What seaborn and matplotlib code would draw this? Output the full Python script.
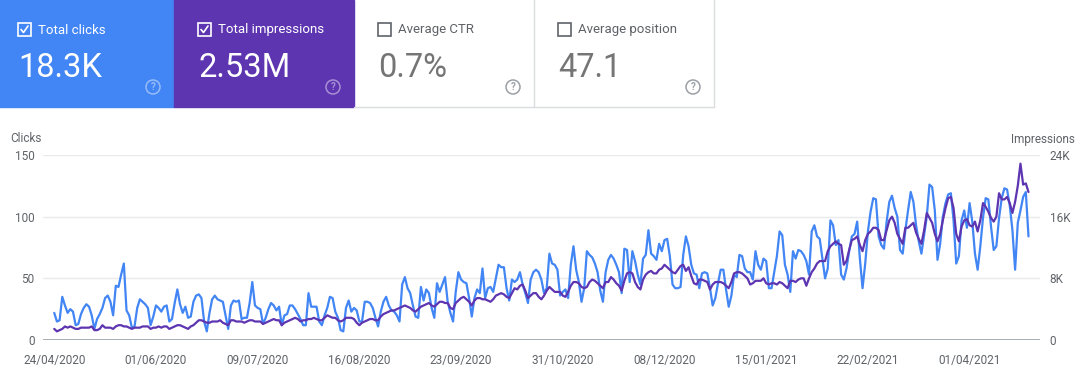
import pandas as pd
import seaborn as sns
import matplotlib
matplotlib.use("Agg")
from matplotlib import pyplot as plt
from matplotlib.patches import Rectangle, Ellipse
from matplotlib.lines import Line2D

# Daily values (24/04/2020 .. 23/04/2021)
start_date = "2020-04-24"

clicks = [
    22, 15, 16, 35, 28, 22, 25, 23, 12, 13, 21, 26, 29, 27,
    20, 9, 17, 21, 26, 34, 36, 31, 20, 44, 43, 53, 62, 24,
    20, 10, 11, 26, 33, 31, 29, 26, 12, 19, 28, 26, 23, 27,
    28, 15, 17, 30, 41, 29, 22, 27, 18, 19, 31, 36, 37, 34,
    15, 7, 22, 33, 36, 33, 32, 31, 20, 9, 28, 32, 31, 32,
    17, 18, 18, 30, 47, 28, 26, 25, 13, 18, 25, 30, 28, 24,
    27, 12, 20, 21, 28, 28, 25, 21, 17,
    12, 12, 38, 27, 27, 27, 15, 12, 20, 26, 35, 34, 23, 18,
    8, 7, 26, 32, 23, 26, 24, 15, 15, 31, 31, 30, 26, 18,
    11, 23, 31, 35, 28, 24, 23, 20, 15, 45, 51, 42, 38, 28,
    19, 18, 43, 32, 41, 38, 26, 18, 46, 39, 45, 51, 31, 22,
    15, 39, 55, 49, 47, 46, 34, 19, 34, 41, 38, 58, 34, 42,
    43, 39, 50, 61, 59, 59, 42, 32, 49, 47, 49, 55, 45, 38,
    30, 49, 55, 57, 55, 49, 38, 42, 70, 62, 61, 57, 36, 39,
    41, 34, 61, 76, 57, 47,
    31, 42, 72, 69, 67, 62, 55, 40, 31, 55, 65, 69, 66, 61,
    55, 38, 74, 73, 47, 72, 64, 53, 45, 66, 69, 89, 70, 68,
    65, 78, 72, 81, 82, 68, 45, 42, 42, 43, 69, 84, 76, 61,
    54, 53, 42, 54, 55, 54, 42, 28, 34, 46, 57, 57, 41, 27,
    36, 53, 51, 69, 68, 58, 55, 55, 49, 72, 61, 57, 66, 64,
    42, 42, 55, 68, 88, 85, 61, 53, 39, 72, 66, 73, 72, 69,
    64, 53, 88, 93, 84,
    82, 66, 50, 58, 97, 93, 77, 81, 53, 49, 58, 72, 84, 86,
    96, 66, 42, 62, 88, 104, 115, 114, 84, 77, 74, 96, 112, 117,
    107, 100, 73, 70, 89, 105, 120, 112, 93, 80, 70, 85, 100, 126,
    124, 105, 65, 78, 100, 111, 118, 119, 97, 62, 68, 97, 105, 91,
    111, 96, 70, 57, 76, 99, 115, 114, 92, 73, 76, 99, 115, 123,
    122, 109, 89, 57, 95, 105, 116, 120, 84,
]

impressions = [
    1440, 1120, 1280, 1440, 1760, 1600, 1760, 1600, 1440, 1440, 1600, 1600, 1600, 1600,
    1760, 1280, 1280, 1440, 1920, 1600, 1600, 1600, 1440, 1760, 1920, 1920, 1760, 1760,
    1600, 1440, 1600, 1600, 1600, 1760, 1760, 1760, 1440, 1600, 1600, 1760, 1600, 1760,
    1760, 1440, 1600, 1760, 1920, 1920, 1760, 1600, 1440, 1760, 1920, 2240, 2560, 2560,
    2400, 2240, 2240, 2400, 2400, 2400, 2560, 2240, 2080, 1920, 2560, 2560, 2400, 2400,
    2400, 2240, 2400, 2560, 2560, 2400, 2400, 2400, 2080, 2240, 2400, 2560, 2720, 2560,
    2560, 1920, 2240, 2400, 2560, 2720, 2880, 2720, 2400,
    2560, 2560, 2720, 2720, 2880, 2720, 2560, 2560, 2880, 3200, 3040, 2880, 2880, 2560,
    2400, 2560, 2880, 2880, 2880, 2720, 2240, 1920, 2240, 2400, 2560, 2720, 2720, 2560,
    2560, 3040, 3360, 3520, 3680, 3840, 3840, 4000, 4160, 4320, 4480, 4320, 4160, 3840,
    3680, 4000, 4320, 4480, 4640, 4800, 4480, 4320, 4640, 4960, 4960, 4800, 4800, 4160,
    4000, 4800, 5120, 5440, 5600, 5280, 4960, 4480, 5120, 5440, 5440, 5280, 5280, 5120,
    4960, 5280, 5760, 5920, 6080, 5920, 5600, 5440, 6080, 6720, 6560, 7040, 7200, 6400,
    5440, 5760, 6080, 6080, 5600, 5280, 5760, 6400, 6880, 6560, 6240, 6240, 6240, 5760,
    5600, 6240, 7040, 7520, 7520, 7360,
    6880, 6720, 6880, 7520, 7840, 7680, 7360, 7040, 6720, 7520, 7520, 8160, 7840, 7360,
    7040, 6400, 7680, 8640, 8800, 8640, 7520, 6880, 6560, 7840, 8480, 8800, 8960, 8640,
    8640, 9120, 9280, 9760, 9440, 9120, 8800, 8640, 9120, 9600, 9760, 8960, 9440, 8320,
    7360, 7200, 7840, 7840, 7680, 7520, 6560, 7200, 7520, 7520, 7520, 7360, 7040, 6720,
    7520, 8640, 8800, 8800, 8640, 8320, 8000, 7200, 7360, 7680, 7680, 7680, 8000, 7360,
    7200, 7360, 7360, 7200, 7520, 7360, 7040, 6720, 7680, 7680, 7520, 7840, 8000, 8000,
    7040, 8000, 8800, 9280, 9920,
    10240, 10240, 10240, 11520, 12160, 12480, 12800, 12480, 12320, 9760, 10240, 11680, 12960, 13120,
    13440, 12320, 11520, 12960, 13760, 14080, 14560, 14560, 14240, 12960, 12960, 14240, 15520, 16000,
    15200, 13760, 13120, 12480, 14560, 14560, 14880, 15200, 13920, 13120, 12480, 14240, 16480, 15840,
    15200, 13760, 12800, 13760, 15520, 17120, 18400, 18560, 17120, 13760, 12800, 14720, 15520, 15680,
    14880, 14720, 15360, 14080, 15520, 17760, 17280, 16640, 15840, 15360, 16000, 19040, 18240, 18240,
    18560, 17760, 16480, 17920, 20000, 22880, 20160, 20320, 19200,
]

tick_dates = ["2020-04-24", "2020-06-01", "2020-07-09", "2020-08-16", "2020-09-23",
              "2020-10-31", "2020-12-08", "2021-01-15", "2021-02-22", "2021-04-01"]

cards = [
    ("Total clicks", "18.3K"),
    ("Total impressions", "2.53M"),
    ("Average CTR", "0.7%"),
    ("Average position", "47.1"),
]

BLUE = "#4285f4"
PURPLE = "#5e35b1"
GREY_TXT = "#5f6368"

sns.set_style("white")
plt.rcParams["font.family"] = ["Roboto", "DejaVu Sans"]

W, H = 1084, 377
fig = plt.figure(figsize=(W / 100, H / 100), dpi=100)


def fx(x):
    return x / W


def fy(y):
    return 1 - y / H


# --- cabecera con las tarjetas (la primera está cortada 6px a la izquierda) ---
card_w = 180
card_x = [-6, 174, 354, 534]
for i, (label, value) in enumerate(cards):
    x0 = card_x[i]
    selected = i < 2
    if selected:
        bg = BLUE if i == 0 else PURPLE
        fig.add_artist(Rectangle((fx(x0), fy(107)), card_w / W, 107 / H,
                                 transform=fig.transFigure, color=bg, zorder=0))
        fg_lab, fg_val, box_c = "white", "white", "white"
        icon_c = (1, 1, 1, 0.45)
    else:
        fg_lab, fg_val, box_c = GREY_TXT, "#757575", GREY_TXT
        icon_c = "#9aa0a6"
        # bordes grises
        fig.add_artist(Line2D([fx(x0 + card_w), fx(x0 + card_w)], [fy(0), fy(107)],
                              transform=fig.transFigure, color="#dadce0", lw=1))
        fig.add_artist(Line2D([fx(x0), fx(x0 + card_w)], [fy(107), fy(107)],
                              transform=fig.transFigure, color="#dadce0", lw=1))
    bx = x0 + 24
    fig.add_artist(Rectangle((fx(bx), fy(36)), 13 / W, 13 / H, transform=fig.transFigure,
                             fill=False, edgecolor=box_c, lw=1.2))
    if selected:
        fig.add_artist(Line2D([fx(bx + 3), fx(bx + 5.5), fx(bx + 10)],
                              [fy(29.5), fy(32.5), fy(26)],
                              transform=fig.transFigure, color="white", lw=1.2))
    fig.text(fx(bx + 20.5), fy(30), label, color=fg_lab, fontsize=9.5, va="center", ha="left")
    fig.text(fx(bx + 0.5), fy(77), value, color=fg_val, fontsize=23.5, va="baseline", ha="left")
    cx = x0 + 159
    fig.add_artist(Ellipse((fx(cx), fy(87)), 14 / W, 14 / H, transform=fig.transFigure,
                           fill=False, edgecolor=icon_c, lw=1.1))
    fig.text(fx(cx), fy(87.5), "?", color=icon_c, fontsize=7, ha="center", va="center",
             fontweight="bold")

# --- gráfico ---
dates = pd.date_range(start_date, periods=len(clicks), freq="D")
df = pd.DataFrame({"date": dates, "clicks": clicks, "impressions": impressions})

ax = fig.add_axes([fx(43), fy(340), (1040 - 43) / W, (340 - 155) / H])
ax2 = ax.twinx()

sns.lineplot(data=df, x="date", y="clicks", ax=ax, color=BLUE, linewidth=1.6)
sns.lineplot(data=df, x="date", y="impressions", ax=ax2, color=PURPLE, linewidth=1.6)

d0 = pd.Timestamp(start_date)
ax.set_xlim(d0 - pd.Timedelta(days=4.2), d0 + pd.Timedelta(days=368.3))
ax.set_ylim(0, 150)
ax2.set_ylim(0, 24000)

ax.set_yticks([0, 50, 100, 150])
ax.set_yticklabels(["0", "50", "100", "150"])
ax2.set_yticks([0, 8000, 16000, 24000])
ax2.set_yticklabels(["0", "8K", "16K", "24K"])

ticks = pd.to_datetime(tick_dates)
ax.set_xticks(ticks)
ax.set_xticklabels([t.strftime("%d/%m/%Y") for t in ticks])

for a in (ax, ax2):
    a.set_xlabel("")
    a.set_ylabel("")
    for s in ["top", "left", "right", "bottom"]:
        a.spines[s].set_visible(False)
    a.tick_params(length=0, labelsize=8.5, colors=GREY_TXT)
ax.tick_params(axis="y", pad=6)
ax2.tick_params(axis="y", pad=7)
ax.tick_params(axis="x", pad=10)

ax.grid(axis="y", color="#e8eaed", lw=1)
ax.grid(axis="x", visible=False)
ax2.grid(False)
ax.axhline(0, color="#9aa0a6", lw=1.2, zorder=1)

fig.text(fx(10), fy(139), "Clicks", color=GREY_TXT, fontsize=8.5, va="center", ha="left")
fig.text(fx(1075), fy(139), "Impressions", color=GREY_TXT, fontsize=8.5, va="center", ha="right")

fig.savefig("out.png", dpi=100)
